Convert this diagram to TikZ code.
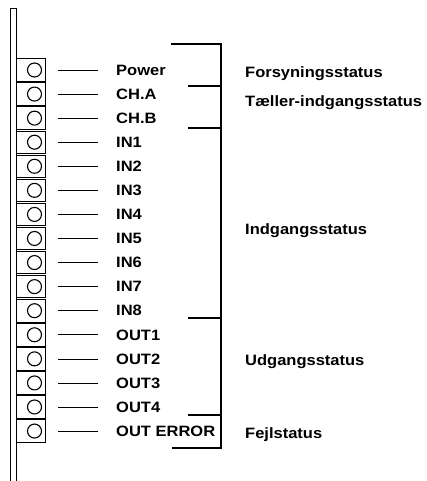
\documentclass[tikz,border=0pt]{standalone}
\usepackage{fontspec}
\setmainfont{Liberation Sans}[FakeStretch=1.1]
\usetikzlibrary{positioning}
\tikzset{
  led/.style={draw, line width=0.8pt, minimum width=29pt, minimum height=22.5pt, inner sep=0pt},
  lamp/.style={draw, circle, line width=1.1pt, minimum size=14pt, inner sep=0pt},
  sig/.style={font=\fontsize{15pt}{17pt}\selectfont\bfseries, anchor=west, inner sep=0pt,
    text height=10.5pt, text depth=0pt},
  wire/.style={line width=0.6pt},
  brk/.style={line width=1.2pt},
}
\begin{document}
\begin{tikzpicture}[x=1pt,y=-1pt]
  \useasboundingbox (0,0) rectangle (426,481);
  % front rail
  \draw[line width=0.8pt] (10,481) -- (10,8) -- (16,8) -- (16,481);
  % lamps with signal names
  \foreach \lab [count=\i] in {Power,CH.A,CH.B,IN1,IN2,IN3,IN4,IN5,IN6,IN7,IN8,OUT1,OUT2,OUT3,OUT4,OUT ERROR} {
    \node[led] (b\i) at (30.5,{70+24.07*(\i-1)}) {};
    \node[lamp] (c\i) at (34.5,{70+24.07*(\i-1)}) {};
    \node[sig] (l\i) at (116,{70+24.07*(\i-1)}) {\lab};
    \draw[wire] ([xshift=13pt]b\i.east) -- ([xshift=-18pt]l\i.west);
  }
  % group bracket
  \draw[brk] (171,44) -- (221,44) -- (221,448) -- (172,448);
  \foreach \y in {86,128,318,415}
    \draw[brk] (188,\y) -- (221,\y);
  \node[sig] (g1) at (245,72) {Forsyningsstatus};
  \node[sig] (g2) at (245,101) {Tæller-indgangsstatus};
  \node[sig] (g3) at (245,229) {Indgangsstatus};
  \node[sig] (g4) at (245,360) {Udgangsstatus};
  \node[sig] (g5) at (245,433) {Fejlstatus};
\end{tikzpicture}
\end{document}
